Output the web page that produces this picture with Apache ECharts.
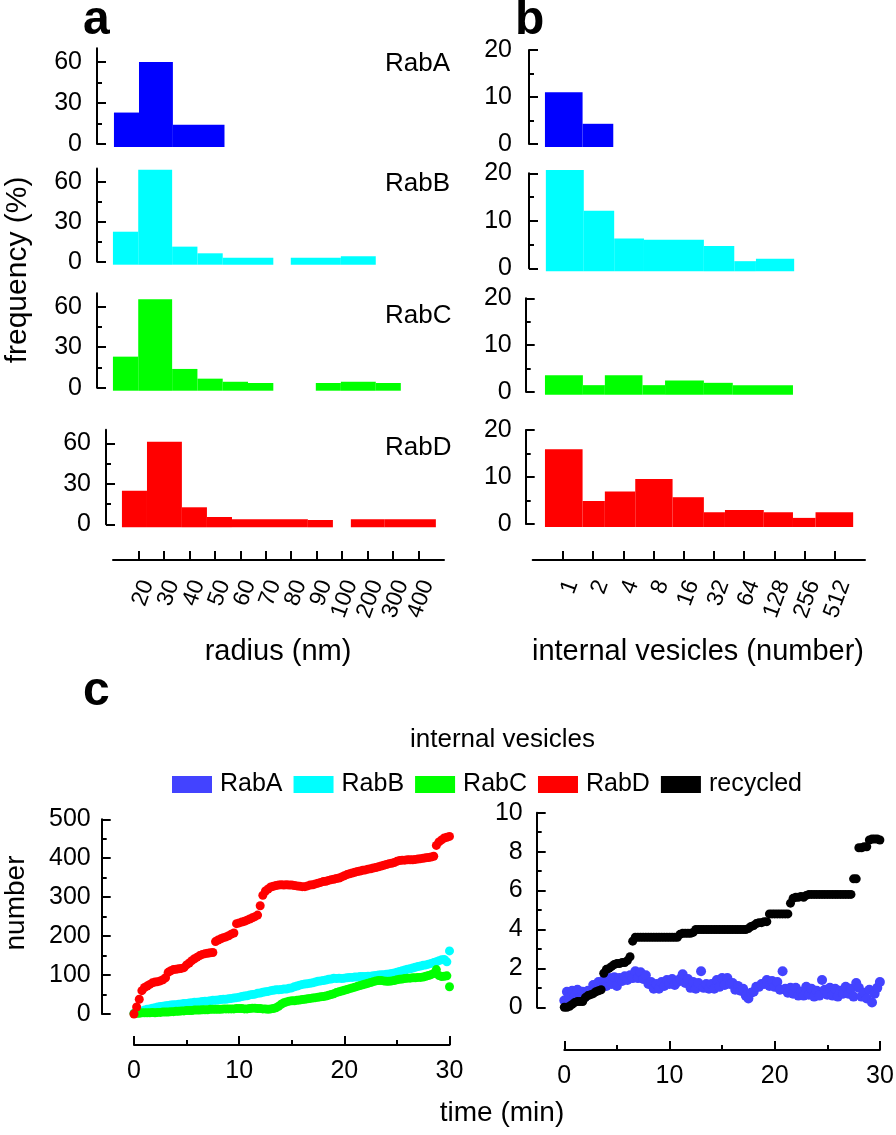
<!DOCTYPE html>
<html><head><meta charset="utf-8">
<script src="https://cdn.jsdelivr.net/npm/echarts@6/dist/echarts.min.js"></script>
<style>html,body{margin:0;padding:0;background:#fff}#c{width:896px;height:1135px}</style>
</head><body><div id="c"></div>
<script>
// ---------- DATA ----------
const RADIUS_LABELS = ['20','30','40','50','60','70','80','90','100','200','300','400'];
const VESICLE_LABELS = ['1','2','4','8','16','32','64','128','256','512'];

// histogram bars: [binStart, binEnd, frequency %]  (x in tick units of the label axis)
const RADIUS_RABA = [[-0.63,0.36,23],[0.36,1.7,60],[1.7,3.74,14]];
const RADIUS_RABB = [[-0.67,0.33,22.5],[0.33,1.67,69],[1.67,2.67,11.3],[2.67,3.67,6.3],[3.67,5.67,3],[6.36,8.34,3],[8.34,9.72,4]];
const RADIUS_RABC = [[-0.67,0.33,23],[0.33,1.67,65.5],[1.67,2.67,13.9],[2.67,3.67,6.7],[3.67,4.67,4.4],[4.67,5.67,3.5],[7.35,8.34,3.5],[8.34,9.72,4.4],[9.72,10.71,3.5]];
const RADIUS_RABD = [[-0.67,0.32,24.9],[0.32,1.7,61.2],[1.7,2.69,12.6],[2.69,3.68,5.4],[3.68,6.68,3.7],[6.68,7.67,3.2],[8.38,9.72,3.7],[9.72,11.74,3.7]];

const VES_RABA = [[-0.64,0.61,11],[0.61,1.63,4.3]];
const VES_RABB = [[-0.61,0.65,20.7],[0.65,1.66,12.1],[1.66,2.65,6.3],[2.65,4.64,6.0],[4.64,5.65,4.7],[5.65,6.37,1.5],[6.37,7.64,2.0]];
const VES_RABC = [[-0.64,0.62,3.5],[0.62,1.35,1.4],[1.35,2.6,3.5],[2.6,3.35,1.4],[3.35,4.64,2.4],[4.64,5.6,1.9],[5.6,7.6,1.4]];
const VES_RABD = [[-0.64,0.61,15.9],[0.61,1.35,4.9],[1.35,2.36,6.9],[2.36,3.6,9.6],[3.6,4.64,5.7],[4.64,5.34,2.5],[5.34,6.63,3.0],[6.63,7.6,2.5],[7.6,8.35,1.3],[8.35,9.6,2.5]];

// time courses (min)
const TIME = [0,0.25,0.5,0.75,1,1.25,1.5,1.75,2,2.25,2.5,2.75,3,3.25,3.5,3.75,4,4.25,4.5,4.75,5,5.25,5.5,5.75,6,6.25,6.5,6.75,7,7.25,7.5,7.75,8,8.25,8.5,8.75,9,9.25,9.5,9.75,10,10.25,10.5,10.75,11,11.25,11.5,11.75,12,12.25,12.5,12.75,13,13.25,13.5,13.75,14,14.25,14.5,14.75,15,15.25,15.5,15.75,16,16.25,16.5,16.75,17,17.25,17.5,17.75,18,18.25,18.5,18.75,19,19.25,19.5,19.75,20,20.25,20.5,20.75,21,21.25,21.5,21.75,22,22.25,22.5,22.75,23,23.25,23.5,23.75,24,24.25,24.5,24.75,25,25.25,25.5,25.75,26,26.25,26.5,26.75,27,27.25,27.5,27.75,28,28.25,28.5,28.75,29,29.25,29.5,29.75,30];
const NUM_RABD = [0,18,38,60, 68,72,76,80, 82,83,85,88, 93,107,111,114, 115,116,117,119, 126,131,137,142, 146,150,153,155, 156,157,158,186, 190,193,196,198, 201,205,208,232, 234,236,238,241, 244,247,250,254, 278,305,316,321, 326,328,330,331, 332,331,332,331, 331,330,329,328, 327,327,329,331, 332,334,336,338, 340,341,343,345, 346,348,349,352, 355,358,360,362, 364,366,367,369, 370,372,373,375, 376,378,380,382, 384,386,387,389, 392,394,395,395, 396,396,396,397, 398,399,400,401, 402,403,405,433, 442,447,452,454, 456];
const NUM_RABB = [2,4,6,8, 10,12,13,15, 16,18,19,20, 21,22,23,24, 24,25,26,27, 27,28,29,30, 30,31,32,33, 33,34,35,35, 36,37,38,38, 39,40,41,42, 43,45,46,47, 49,50,51,53, 54,56,57,58, 60,61,62,62, 63,64,64,66, 67,70,72,74, 76,77,78,79, 80,82,84,85, 86,87,89,90, 92,91,92,91, 92,93,94,94, 95,95,96,96, 96,97,97,98, 99,100,101,101, 102,103,104,105, 107,109,111,113, 115,116,118,120, 122,123,125,126, 128,130,132,134, 137,139,140,134, 162];
const NUM_RABC = [1,2,2,3, 3,3,3,4, 3,4,4,5, 5,5,6,6, 7,7,8,8, 9,9,9,10, 10,10,11,11, 11,12,12,12, 12,12,13,13, 13,13,13,14, 14,14,13,13, 14,15,15,14, 14,13,13,12, 13,14,16,20, 25,29,31,33, 34,34,35,36, 37,38,39,40, 41,42,43,44, 45,46,48,50, 52,55,57,59, 61,63,65,67, 69,71,73,75, 77,79,81,83, 85,86,86,85, 84,84,85,86, 88,89,90,91, 92,92,93,93, 94,94,95,97, 99,101,104,114, 99,96,97,98, 70];
const NUM_RABA = [0.35,0.8,0.5,0.85, 0.55,0.9,0.5,0.8, 0.55,0.85,0.8,1.15, 0.95,1.3,1.0,1.4, 1.1,1.5,1.2,1.55, 1.1,1.5,1.35,1.6, 1.4,1.65,1.5,1.85, 1.5,1.8,1.45,1.65, 1.2,1.3,0.95,1.2, 0.95,1.3,1.1,1.4, 1.2,1.45,1.15,1.3, 1.45,1.7,1.25,1.45, 1.0,1.3,0.95,1.25, 1.85,1.0,1.2,0.95, 1.2,0.95,1.4,1.05, 1.5,1.15,1.5,1.2, 1.25,0.9,1.1,0.85, 0.95,0.6,0.45,0.75, 0.8,1.05,1.05,1.2, 1.2,1.4,1.1,1.35, 1.05,1.3,0.9,1.85, 0.95,0.75,1.0,0.7, 1.0,0.6,0.8,0.6, 1.05,0.65,0.95,0.55, 0.85,0.6,1.4,0.9, 0.65,1.0,0.6,0.95, 0.55,0.85,0.7,1.05, 0.7,0.95,0.55,1.25, 1.0,0.55,0.75,0.45, 0.9,0.25,0.7,1.0, 1.3];
const NUM_RECYCLED = [0,0,0.05,0.15, 0.25,0.3,0.3,0.3, 0.5,0.6,0.65,0.7, 0.8,0.85,0.9,1.75, 1.95,2.0,2.1,2.2, 2.25,2.25,2.3,2.3, 2.4,2.6,3.4,3.6, 3.6,3.6,3.6,3.6, 3.6,3.6,3.6,3.6, 3.6,3.6,3.6,3.6, 3.6,3.6,3.6,3.6, 3.75,3.8,3.8,3.8, 3.8,3.85,4.0,4.0, 4.0,4.0,4.0,4.0, 4.0,4.0,4.0,4.0, 4.0,4.0,4.0,4.0, 4.0,4.0,4.0,4.0, 4.0,4.0,4.05,4.15, 4.2,4.3,4.35,4.35, 4.4,4.4,4.8,4.8, 4.8,4.8,4.8,4.8, 4.8,4.8,5.35,5.6, 5.65,5.65,5.7,5.65, 5.75,5.8,5.8,5.8, 5.8,5.8,5.8,5.8, 5.8,5.8,5.8,5.8, 5.8,5.8,5.8,5.8, 5.8,5.8,6.6,6.6, 8.2,8.2,8.25,8.25, 8.6,8.65,8.65,8.65, 8.6];

const FREQ_A_TICKS = [0,30,60];

// ---------- STYLE ----------
const FONT = 'Liberation Sans';
const BAR_DROP = 3;
const COL = {RabA:'#0000ff', RabB:'#00ffff', RabC:'#00ff00', RabD:'#ff0000', dotA:'#4343ff', recycled:'#000000'};
const AX = {color:'#000', width:2};

const grids = [
  {left:97, top:48.3, width:341.5, height:95.7},
  {left:97, top:168.4, width:341.5, height:93.3},
  {left:97, top:293.2, width:341.5, height:94.5},
  {left:106, top:429.8, width:341.5, height:94.5},
  {left:529, top:50, width:336.2, height:94},
  {left:529, top:173.3, width:336.2, height:95},
  {left:525.7, top:298.3, width:339.5, height:93.4},
  {left:525.7, top:430, width:339.5, height:94},
  {left:113, top:559, width:331, height:1},
  {left:122, top:559, width:331, height:1},
  {left:532.7, top:559, width:332.3, height:1},
  {left:541.7, top:559, width:332.3, height:1},
  {left:134, top:819.3, width:315.5, height:194.7},
  {left:564.3, top:812.7, width:315.6, height:194.6}
].map(g => Object.assign({outerBoundsMode:'none', containLabel:false}, g));

function valAxis(grid, min, max, interval, margin, extra) {
  return Object.assign({
    type:'value', gridIndex:grid, min:min, max:max, interval:interval,
    axisLine:{show:true, onZero:false, lineStyle:AX},
    axisTick:{show:true, inside:true, length:9, lineStyle:AX},
    minorTick:{show:true, splitNumber:2, length:5, lineStyle:AX},
    splitLine:{show:false}, minorSplitLine:{show:false},
    axisLabel:{show:true, margin:margin, color:'#000', fontSize:25, fontFamily:FONT}
  }, extra || {});
}
function hiddenX(grid, min, max) { return {type:'value', gridIndex:grid, min:min, max:max, show:false, axisLine:{onZero:false}}; }
function hiddenY(grid) { return {type:'value', gridIndex:grid, min:0, max:1, show:false, axisLine:{onZero:false}}; }

const xAxes = [], yAxes = [];
for (let i = 0; i < 4; i++) {
  xAxes.push(hiddenX(i, -1.3, 12.2));
  const ya = valAxis(i, 0, 70, 30, 15);
  ya.axisTick.customValues = FREQ_A_TICKS;
  ya.axisLabel.customValues = FREQ_A_TICKS;
  yAxes.push(ya);
}
for (let i = 4; i < 8; i++) {
  xAxes.push(hiddenX(i, i < 6 ? -1.17 : -1.28, 10));
  yAxes.push(valAxis(i, 0, 20, 10, i < 6 ? 17 : 14));
}
const padCats = labels => [''].concat(labels, ['']);
const RAD_CATS = padCats(RADIUS_LABELS), VES_CATS = padCats(VESICLE_LABELS);
function lineCat(grid, cats) {
  return {type:'category', gridIndex:grid, data:cats, boundaryGap:false, position:'bottom',
    axisLine:{show:true, onZero:false, lineStyle:AX},
    axisTick:{show:true, inside:true, length:9, lineStyle:AX, interval:(i)=> i>0 && i<cats.length-1},
    axisLabel:{show:false}, splitLine:{show:false}};
}
function labelCat(grid, cats) {
  return {type:'category', gridIndex:grid, data:cats, boundaryGap:false, position:'bottom',
    axisLine:{show:false, onZero:false}, axisTick:{show:false}, splitLine:{show:false},
    axisLabel:{show:true, interval:0, rotate:70, margin:21, color:'#000', fontSize:23, fontFamily:FONT}};
}
xAxes.push(lineCat(8, RAD_CATS)); yAxes.push(hiddenY(8));
xAxes.push(labelCat(9, RAD_CATS)); yAxes.push(hiddenY(9));
xAxes.push(lineCat(10, VES_CATS)); yAxes.push(hiddenY(10));
xAxes.push(labelCat(11, VES_CATS)); yAxes.push(hiddenY(11));
// panel c
xAxes.push(valAxis(12, 0, 30, 10, 14, {position:'bottom', offset:31}));
yAxes.push(valAxis(12, 0, 500, 100, 11, {offset:32.3}));
xAxes.push(valAxis(13, 0, 30, 10, 14, {position:'bottom', offset:42.7}));
yAxes.push(valAxis(13, 0, 10, 2, 14, {offset:27.6}));

function hist(idx, data, color) {
  return {
    type:'custom', xAxisIndex:idx, yAxisIndex:idx, data:data, silent:true, clip:false,
    encode:{x:[0,1], y:2},
    renderItem:function(params, api) {
      const p0 = api.coord([api.value(0), 0]);
      const p1 = api.coord([api.value(1), api.value(2)]);
      return {type:'rect', shape:{x:p0[0], y:p1[1], width:p1[0]-p0[0], height:p0[1]-p1[1]+BAR_DROP}, style:{fill:color}};
    }
  };
}
const pairs = vals => TIME.map((t, i) => [t, vals[i]]);
function dots(name, idx, vals, color, size) {
  return {type:'scatter', name:name, xAxisIndex:idx, yAxisIndex:idx, data:pairs(vals),
    symbol:'circle', symbolSize:size, itemStyle:{color:color, opacity:1}, silent:true, animation:false};
}

const series = [
  hist(0, RADIUS_RABA, COL.RabA), hist(1, RADIUS_RABB, COL.RabB), hist(2, RADIUS_RABC, COL.RabC), hist(3, RADIUS_RABD, COL.RabD),
  hist(4, VES_RABA, COL.RabA), hist(5, VES_RABB, COL.RabB), hist(6, VES_RABC, COL.RabC), hist(7, VES_RABD, COL.RabD),
  dots('RabA', 13, NUM_RABA, COL.dotA, 10),
  dots('recycled', 13, NUM_RECYCLED, COL.recycled, 9),
  dots('RabB', 12, NUM_RABB, COL.RabB, 9),
  dots('RabC', 12, NUM_RABC, COL.RabC, 9),
  dots('RabD', 12, NUM_RABD, COL.RabD, 9)
];

function txt(s, x, y, size, opts) {
  opts = opts || {};
  return {type:'text', x:x, y:y, rotation:opts.rot || 0, silent:true,
    style:{text:s, fill:'#000', fontSize:size, fontFamily:FONT, fontWeight:opts.bold ? 'bold' : 'normal',
      align:opts.align || 'left', verticalAlign:'middle'}};
}
const graphic = [
  txt('a', 83, 20.5, 48, {bold:true}),
  txt('b', 515, 20.5, 48, {bold:true}),
  txt('c', 83, 692, 48, {bold:true}),
  txt('RabA', 385, 64, 26), txt('RabB', 385, 184, 26), txt('RabC', 385, 315.5, 26), txt('RabD', 385, 448, 26),
  txt('frequency (%)', 18, 270, 30, {rot:Math.PI/2, align:'center'}),
  txt('radius (nm)', 278, 652, 29, {align:'center'}),
  txt('internal vesicles (number)', 698, 652, 29, {align:'center'}),
  txt('internal vesicles', 502.5, 740, 26, {align:'center'}),
  txt('number', 16, 903, 28, {rot:Math.PI/2, align:'center'}),
  txt('time (min)', 502, 1113, 28, {align:'center'})
];

const chart = echarts.init(document.getElementById('c'), null, {renderer:'canvas'});
chart.setOption({
  animation:false,
  backgroundColor:'#fff',
  grid:grids, xAxis:xAxes, yAxis:yAxes, series:series, graphic:graphic,
  legend:{data:['RabA','RabB','RabC','RabD','recycled'], left:172, top:772, orient:'horizontal', padding:0,
    icon:'rect', itemWidth:40, itemHeight:17, itemGap:11, selectedMode:false,
    textStyle:{color:'#000', fontSize:25, fontFamily:FONT, padding:[0,0,0,3]}}
});
</script></body></html>
